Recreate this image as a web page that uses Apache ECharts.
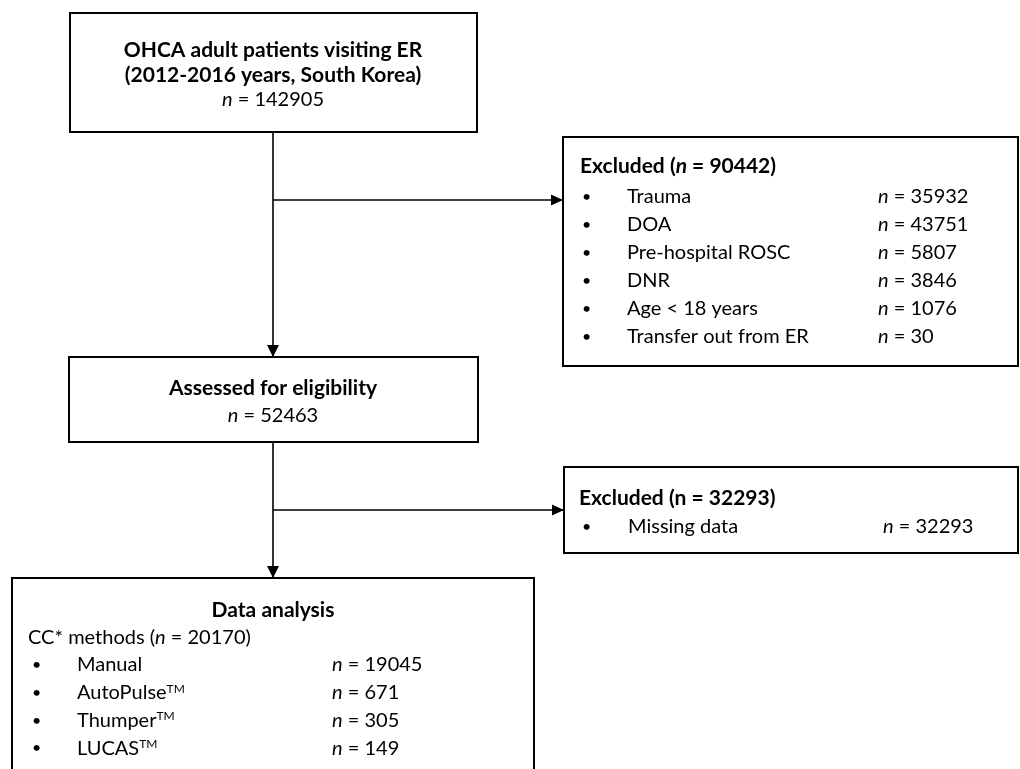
<!DOCTYPE html>
<html>
<head>
<meta charset="utf-8">
<script src="https://cdn.jsdelivr.net/npm/echarts@6/dist/echarts.min.js"></script>
<style>
html,body{margin:0;padding:0;background:#fff;}
#chart{width:1020px;height:769px;}
</style>
</head>
<body>
<div id="chart"></div>
<script>
// ---- data ----
const totalTitle = ['OHCA adult patients visiting ER', '(2012-2016 years, South Korea)'];
const totalN = 142905;
const excluded1Total = 90442;
const excluded1Reasons = ['Trauma', 'DOA', 'Pre-hospital ROSC', 'DNR', 'Age < 18 years', 'Transfer out from ER'];
const excluded1Counts = [35932, 43751, 5807, 3846, 1076, 30];
const assessedTitle = 'Assessed for eligibility';
const assessedN = 52463;
const excluded2Total = 32293;
const excluded2Reasons = ['Missing data'];
const excluded2Counts = [32293];
const analysisTitle = 'Data analysis';
const methodsLabel = 'CC* methods';
const methodsN = 20170;
const methodNames = ['Manual', 'AutoPulse', 'Thumper', 'LUCAS'];
const methodTrademark = [false, true, true, true];
const methodCounts = [19045, 671, 305, 149];

// ---- layout ----
const FONT = 'Lato';
const SPINE = 273;
const box1 = {x: 70, y: 13, w: 407, h: 119};
const box2 = {x: 563, y: 137, w: 455, h: 229};
const box3 = {x: 69, y: 357, w: 409, h: 85};
const box5 = {x: 564, y: 467, w: 454, h: 86};
const box4 = {x: 12, y: 578, w: 522, h: 210};
const ROW = 28;
const rich = {
  b: {fontFamily: FONT, fontSize: 21, fontWeight: 'bold', fill: '#000'},
  bi: {fontFamily: FONT, fontSize: 21, fontWeight: 'bold', fontStyle: 'italic', fill: '#000'},
  r: {fontFamily: FONT, fontSize: 20, fill: '#000'},
  i: {fontFamily: FONT, fontSize: 20, fontStyle: 'italic', fill: '#000'},
  dot: {fontFamily: FONT, fontSize: 16, fill: '#000'},
  sup: {fontFamily: FONT, fontSize: 12, fill: '#000', verticalAlign: 'top'}
};

const g = [];
function rect(b) {
  g.push({type: 'rect', shape: {x: b.x, y: b.y, width: b.w, height: b.h},
    style: {fill: '#fff', stroke: '#000', lineWidth: 2}, z: 1});
}
function line(x1, y1, x2, y2) {
  g.push({type: 'line', shape: {x1, y1, x2, y2}, style: {stroke: '#000', lineWidth: 1.6}, z: 2});
}
function arrowDown(x, y) {
  g.push({type: 'polygon', shape: {points: [[x - 6, y - 12], [x + 6, y - 12], [x, y]]}, style: {fill: '#000'}, z: 3});
}
function arrowRight(x, y) {
  g.push({type: 'polygon', shape: {points: [[x - 12, y - 5.5], [x - 12, y + 5.5], [x, y]]}, style: {fill: '#000'}, z: 3});
}
function text(x, y, t, align) {
  g.push({type: 'text', z: 4, style: {x, y, text: t, align: align || 'left', verticalAlign: 'middle',
    rich, font: '20px ' + FONT, fill: '#000'}});
}
const nEq = v => '{i|n}{r| = ' + v + '}';

// connectors
line(SPINE, box1.y + box1.h, SPINE, box3.y);
arrowDown(SPINE, box3.y);
line(SPINE, 200, box2.x, 200);
arrowRight(box2.x, 200);
line(SPINE, box3.y + box3.h, SPINE, box4.y);
arrowDown(SPINE, box4.y);
line(SPINE, 510, box5.x, 510);
arrowRight(box5.x, 510);

// boxes
[box1, box2, box3, box5, box4].forEach(rect);

// box1
totalTitle.forEach((t, k) => text(SPINE, 50 + k * 25, '{b|' + t + '}', 'center'));
text(SPINE, 100, nEq(totalN), 'center');

// box2
text(580, 166, '{b|Excluded (}{bi|n}{b| = ' + excluded1Total + ')}');
excluded1Reasons.forEach((t, k) => {
  const y = 197 + k * ROW;
  text(582, y, '{dot|•}');
  text(627, y, '{r|' + t + '}');
  text(878, y, nEq(excluded1Counts[k]));
});

// box3
text(SPINE, 388, '{b|' + assessedTitle + '}', 'center');
text(SPINE, 416, nEq(assessedN), 'center');

// box5
text(579, 498, '{b|Excluded (n = ' + excluded2Total + ')}');
excluded2Reasons.forEach((t, k) => {
  const y = 527 + k * ROW;
  text(582, y, '{dot|•}');
  text(628, y, '{r|' + t + '}');
  text(883, y, nEq(excluded2Counts[k]));
});

// box4
text(SPINE, 610, '{b|' + analysisTitle + '}', 'center');
text(28, 638, '{r|' + methodsLabel + ' (}{i|n}{r| = ' + methodsN + ')}');
methodNames.forEach((t, k) => {
  const y = 665 + k * 27.7;
  text(32, y, '{dot|•}');
  text(77, y, '{r|' + t + '}' + (methodTrademark[k] ? '{sup|TM}' : ''));
  text(332, y, nEq(methodCounts[k]));
});

const chart = echarts.init(document.getElementById('chart'), null, {renderer: 'canvas'});
chart.setOption({backgroundColor: '#fff', animation: false, graphic: {elements: g}});
</script>
</body>
</html>
